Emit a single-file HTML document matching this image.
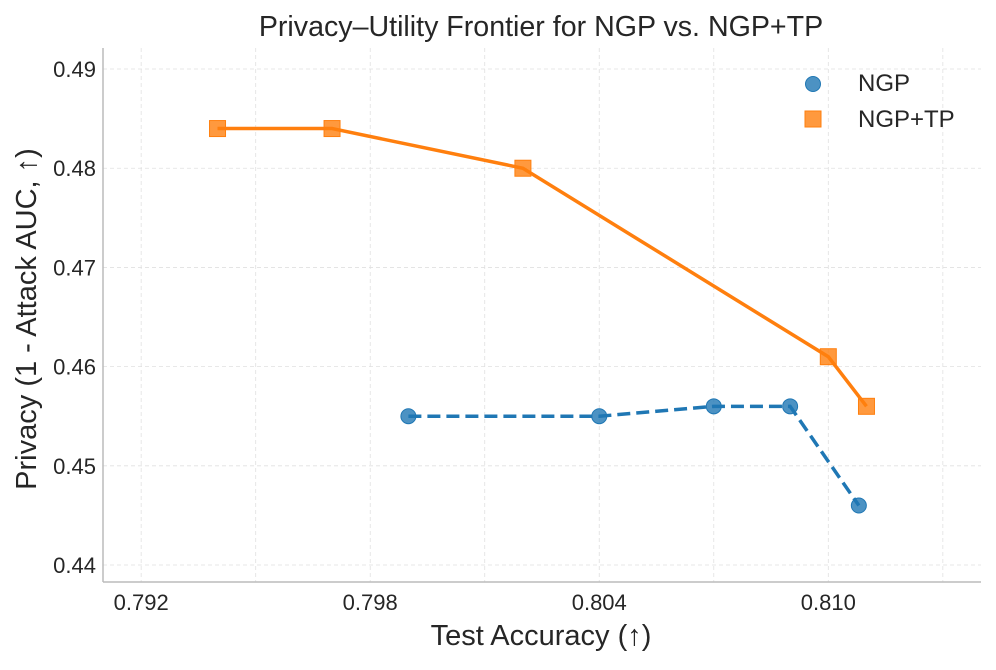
<!DOCTYPE html>
<html><head><meta charset="utf-8"><style>
body{margin:0;background:#fff;font-family:"Liberation Sans",sans-serif}
svg text{font-family:"Liberation Sans","DejaVu Sans",sans-serif;fill:#262626}
</style></head><body>
<svg id="chart" width="996" height="665" xmlns="http://www.w3.org/2000/svg">
<text x="541" y="36" font-size="28.6" text-anchor="middle">Privacy–Utility Frontier for NGP vs. NGP+TP</text>
<g id="grid"></g>
<g id="axes"></g>
<g id="series"></g>
<text x="541" y="645" font-size="29" text-anchor="middle">Test Accuracy (↑)</text>
<text transform="translate(36,319) rotate(-90)" font-size="29" text-anchor="middle">Privacy (1 - Attack AUC, ↑)</text>
<g>
<circle cx="813" cy="84" r="7.5" fill="#1f77b4" fill-opacity="0.8" stroke="#1f77b4"/>
<text x="858" y="91" font-size="24">NGP</text>
<rect x="805" y="111" width="16" height="16" fill="#ff7f0e" fill-opacity="0.8" stroke="#ff7f0e"/>
<text x="858" y="127" font-size="24">NGP+TP</text>
</g>
</svg>
<script>
const xTicks=[0.792,0.798,0.804,0.810];
const yTicks=[0.44,0.45,0.46,0.47,0.48,0.49];
const ngpX=[0.799,0.804,0.807,0.809,0.8108];
const ngpY=[0.455,0.455,0.456,0.456,0.446];
const tpX=[0.794,0.797,0.802,0.810,0.811];
const tpY=[0.484,0.484,0.480,0.461,0.456];
const L=103,R=981,T=48,B=582;
const x0=0.791,x1=0.814,y0=0.43829,y1=0.49212;
const sx=v=>L+(v-x0)/(x1-x0)*(R-L);
const sy=v=>B-(v-y0)/(y1-y0)*(B-T);
const NS="http://www.w3.org/2000/svg";
function mk(tag,attrs,parent){const e=document.createElementNS(NS,tag);for(const k in attrs)e.setAttribute(k,attrs[k]);parent.appendChild(e);return e;}
const grid=document.getElementById('grid'),axes=document.getElementById('axes'),series=document.getElementById('series');
const minorX=[];for(let v=0.792;v<=0.8141;v+=0.003)minorX.push(v);
minorX.forEach(v=>{const l=mk('line',{x1:sx(v),x2:sx(v),y1:T,y2:B,stroke:'#e0e0e0','stroke-dasharray':'4,3','stroke-width':0.8},grid);

});
yTicks.forEach(v=>{const l=mk('line',{x1:L,x2:R,y1:sy(v),y2:sy(v),stroke:'#e0e0e0','stroke-dasharray':'4,3','stroke-width':0.8},grid);

});
const ls=mk('line',{x1:L,x2:L,y1:T,y2:B,stroke:'#bbb','stroke-width':1.5},axes);


const bs=mk('line',{x1:L,x2:R,y1:B,y2:B,stroke:'#bbb','stroke-width':1.5},axes);


xTicks.forEach(v=>{const t=mk('text',{x:sx(v),y:610,'font-size':22,'text-anchor':'middle'},axes);t.textContent=v.toFixed(3);

});
yTicks.forEach(v=>{const t=mk('text',{x:96,y:sy(v)+8,'font-size':22,'text-anchor':'end'},axes);t.textContent=v.toFixed(2);

});
const p1=mk('polyline',{points:ngpX.map((v,i)=>sx(v)+','+sy(ngpY[i])).join(' '),fill:'none',stroke:'#1f77b4','stroke-width':3.5,'stroke-dasharray':'13,6'},series);


const p2=mk('polyline',{points:tpX.map((v,i)=>sx(v)+','+sy(tpY[i])).join(' '),fill:'none',stroke:'#ff7f0e','stroke-width':3.5},series);


ngpX.forEach((v,i)=>{const c=mk('circle',{cx:sx(v),cy:sy(ngpY[i]),r:7.5,fill:'#1f77b4','fill-opacity':0.8,stroke:'#1f77b4'},series);

});
tpX.forEach((v,i)=>{const c=mk('rect',{x:sx(v)-8,y:sy(tpY[i])-8,width:16,height:16,fill:'#ff7f0e','fill-opacity':0.8,stroke:'#ff7f0e'},series);

});
</script>
</body></html>
